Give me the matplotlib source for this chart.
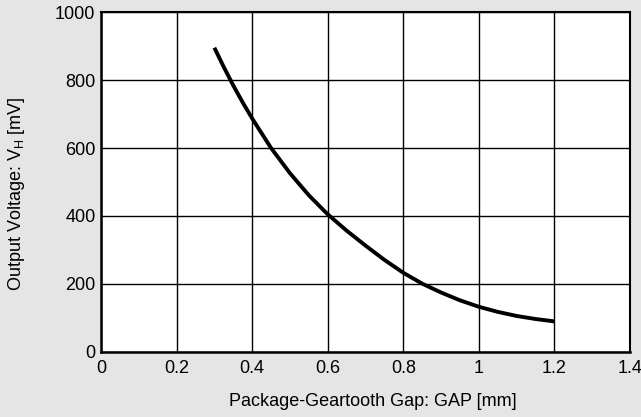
import matplotlib
matplotlib.use('Agg')
import matplotlib.pyplot as plt

# gap [mm] vs output voltage [mV]
gap_mm = [0.30, 0.325, 0.35, 0.375, 0.40, 0.45, 0.50, 0.55, 0.60, 0.65, 0.70, 0.75,
          0.80, 0.85, 0.90, 0.95, 1.00, 1.05, 1.10, 1.15, 1.20]
vh_mv = [895, 838, 784, 734, 687, 600, 526, 461, 405, 357, 313, 271,
         233, 201, 175, 152, 133, 118, 106, 97, 90]

x_ticks = [0, 0.2, 0.4, 0.6, 0.8, 1.0, 1.2, 1.4]
x_labels = ['0', '0.2', '0.4', '0.6', '0.8', '1', '1.2', '1.4']
y_ticks = [0, 200, 400, 600, 800, 1000]

plt.rcParams['font.family'] = ['Liberation Sans', 'DejaVu Sans']
plt.rcParams['mathtext.fontset'] = 'custom'
plt.rcParams['mathtext.rm'] = 'Liberation Sans'

bg = '#e5e5e5'
fig = plt.figure(figsize=(6.41, 4.17), dpi=100, facecolor=bg)
ax = fig.add_axes([0.1576, 0.1559, 0.8252, 0.8153])
ax.set_facecolor('white')

ax.plot(gap_mm, vh_mv, color='black', linewidth=2.8,
        solid_capstyle='butt', solid_joinstyle='round', zorder=3)

ax.set_xlim(0, 1.4)
ax.set_ylim(0, 1000)
ax.set_xticks(x_ticks)
ax.set_xticklabels(x_labels)
ax.set_yticks(y_ticks)
ax.tick_params(length=0, labelsize=13, colors='black')
ax.tick_params(axis='x', pad=6)
ax.tick_params(axis='y', pad=4)
ax.grid(True, color='black', linewidth=1.0)
ax.set_axisbelow(True)

for side in ['left', 'bottom']:
    ax.spines[side].set_linewidth(1.8)
for side in ['top', 'right']:
    ax.spines[side].set_linewidth(1.5)

ax.set_xlabel('Package-Geartooth Gap: GAP [mm]', fontsize=13)
ax.set_ylabel(r'Output Voltage: V$_{\mathrm{H}}$ [mV]', fontsize=13)
ax.xaxis.set_label_coords(0.514, -0.122)
ax.yaxis.set_label_coords(-0.14, 0.465)

fig.savefig('out.png', dpi=100, facecolor=bg)
